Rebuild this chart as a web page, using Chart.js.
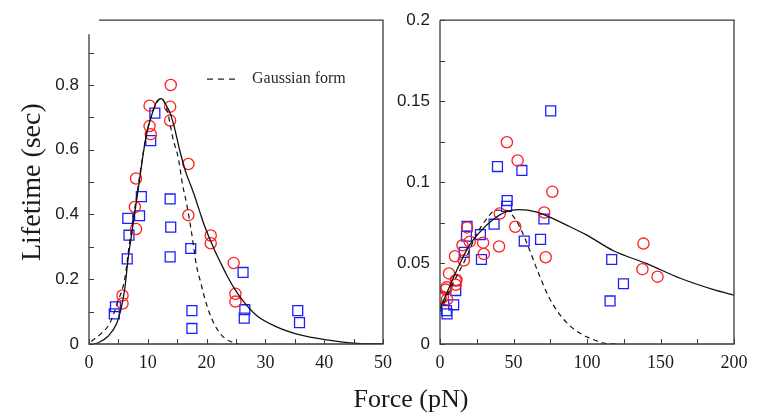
<!DOCTYPE html>
<html>
<head>
<meta charset="utf-8">
<script src="https://cdn.jsdelivr.net/npm/chart.js@4.4.1/dist/chart.umd.min.js"></script>
<style>
  body { margin: 0; background: #fff; }
  #wrap { position: relative; width: 766px; height: 417px; overflow: hidden; }
  #leftChart { position: absolute; left: 0; top: 0; }
  #rightChart { position: absolute; left: 386px; top: 0; }
  #xTitle {
    position: absolute; left: 300px; width: 222px; top: 384px;
    text-align: center; font-family: 'Liberation Serif', serif;
    font-size: 26px; line-height: 30px; color: #1a1a1a;
  }
</style>
</head>
<body>
<div id="wrap">
  <canvas id="leftChart" width="400" height="417"></canvas>
  <canvas id="rightChart" width="380" height="417"></canvas>
  <div id="xTitle">Force (pN)</div>
</div>
<script>
// left panel data (force pN, lifetime sec)
const leftCircleX = [13.9, 10.3, 13.8, 13.8, 10.3, 10.5, 16.9, 8.0, 7.8, 8.0, 16.9, 20.7, 20.7, 24.6, 24.9, 24.9, 5.7, 5.7];
const leftCircleY = [0.80, 0.736, 0.733, 0.69, 0.673, 0.648, 0.556, 0.511, 0.423, 0.355, 0.398, 0.335, 0.311, 0.25, 0.155, 0.131, 0.15, 0.125];
const leftSquareX = [11.2, 10.5, 8.9, 13.8, 6.6, 8.6, 6.8, 13.9, 6.5, 13.8, 17.3, 26.2, 4.5, 4.3, 17.5, 17.5, 26.5, 26.4, 35.5, 35.8];
const leftSquareY = [0.713, 0.628, 0.455, 0.448, 0.388, 0.396, 0.336, 0.361, 0.263, 0.269, 0.295, 0.221, 0.115, 0.093, 0.103, 0.048, 0.106, 0.080, 0.103, 0.066];
const leftFitX = [0.8, 1.5, 3.2, 4.7, 5.5, 6.1, 6.65, 7.2, 7.9, 8.3, 8.7, 9.2, 9.8, 10.6, 11.5, 12.3, 13.1, 13.8, 14.6, 15.5, 16.6, 17.3, 18.0, 18.9, 19.7, 20.6, 21.4, 22.3, 23.4, 24.5, 26.2, 28.5, 31.9, 35.9, 40.4, 45, 50];
const leftFitY = [0, 0.003, 0.023, 0.063, 0.113, 0.173, 0.263, 0.333, 0.42, 0.47, 0.52, 0.585, 0.65, 0.703, 0.748, 0.758, 0.738, 0.713, 0.663, 0.593, 0.523, 0.49, 0.455, 0.405, 0.362, 0.322, 0.288, 0.254, 0.214, 0.178, 0.133, 0.088, 0.053, 0.028, 0.013, 0.003, 0];
const leftGaussX = [0.4, 2.1, 3.5, 4.95, 6.1, 6.9, 7.8, 8.9, 9.8, 10.7, 11.5, 12.2, 12.8, 13.5, 14.3, 15.2, 15.9, 16.6, 17.45, 18.3, 19.0, 19.7, 20.5, 21.4, 22.3, 23.3, 24.5, 25.5];
const leftGaussY = [0.008, 0.033, 0.063, 0.133, 0.203, 0.313, 0.42, 0.553, 0.65, 0.71, 0.745, 0.758, 0.748, 0.705, 0.633, 0.573, 0.493, 0.433, 0.343, 0.24, 0.19, 0.14, 0.095, 0.058, 0.033, 0.015, 0.005, 0];

// right panel data
const rightCircleX = [45.5, 52.8, 76.4, 70.9, 51.2, 40.7, 40.2, 29.3, 29.8, 71.9, 18.4, 20.2, 15.3, 16.2, 10.2, 6.1, 10.7, 10.7, 4.4, 2.0, 4.8, 3.9, 11.2, 0.5, 138.4, 137.7, 148];
const rightCircleY = [0.1246, 0.1134, 0.094, 0.0812, 0.0724, 0.0806, 0.0602, 0.0626, 0.0556, 0.0536, 0.072, 0.0632, 0.061, 0.0516, 0.0542, 0.0436, 0.0392, 0.0366, 0.035, 0.029, 0.0276, 0.0336, 0.0396, 0.0286, 0.062, 0.0462, 0.0416];
const rightSquareX = [75.3, 39.1, 55.7, 45.7, 45.3, 36.8, 57.3, 68.4, 70.7, 27.5, 28.2, 18.0, 18.4, 16.5, 10.7, 9.3, 4.4, 4.8, 116.8, 124.8, 115.7];
const rightSquareY = [0.144, 0.1096, 0.1072, 0.0886, 0.085, 0.074, 0.0636, 0.0646, 0.0772, 0.0676, 0.0522, 0.0666, 0.0726, 0.0566, 0.033, 0.0242, 0.0206, 0.0186, 0.0522, 0.0372, 0.0266];
const rightFitX = [0, 6.1, 13, 19.8, 26.6, 35.7, 44.8, 53.9, 65.3, 76.6, 88, 99.3, 118, 140.7, 163.4, 186.1, 200];
const rightFitY = [0.022, 0.0346, 0.0486, 0.0606, 0.0686, 0.0766, 0.0816, 0.083, 0.0816, 0.0776, 0.0726, 0.0676, 0.0576, 0.0496, 0.0406, 0.0336, 0.0302];
const rightGaussX = [0, 8.4, 17.5, 24.3, 31.2, 38, 44.8, 51.6, 56.2, 60.7, 67.5, 74.3, 81.1, 88, 97.1, 102, 111, 120];
const rightGaussY = [0.02, 0.0366, 0.0526, 0.0666, 0.0766, 0.0826, 0.0826, 0.0766, 0.0686, 0.0586, 0.0426, 0.0286, 0.0186, 0.0116, 0.0056, 0.0036, 0.0006, 0];

function toPoints(xs, ys) {
    return xs.map((x, i) => ({ x: x, y: ys[i] }));
}

// box frame + inward tick marks
// gapTop: left axis line stops short of the top; gapLeft: top line starts right of the axis
const frameTicks = {
    id: 'frameTicks',
    afterDatasetsDraw(chart, args, opts) {
        const { ctx, chartArea: a, scales } = chart;
        const gapTop = opts.gapTop || 0, gapLeft = opts.gapLeft || 0;
        ctx.save();
        ctx.strokeStyle = '#3a3a3a';
        ctx.lineWidth = 1.3;
        ctx.beginPath();
        ctx.moveTo(a.left, a.top + gapTop);
        ctx.lineTo(a.left, a.bottom);
        ctx.lineTo(a.right, a.bottom);
        ctx.lineTo(a.right, a.top);
        ctx.lineTo(a.left + gapLeft, a.top);
        ctx.stroke();
        ctx.lineWidth = 1;
        ctx.beginPath();
        scales.x.ticks.forEach(t => {
            const px = Math.round(scales.x.getPixelForValue(t.value)) + 0.5;
            ctx.moveTo(px, a.bottom);
            ctx.lineTo(px, a.bottom - 5);
        });
        scales.y.ticks.forEach(t => {
            const py = Math.round(scales.y.getPixelForValue(t.value)) + 0.5;
            if (py < a.top + gapTop) return;
            ctx.moveTo(a.left, py);
            ctx.lineTo(a.left + 5, py);
        });
        ctx.stroke();
        ctx.restore();
    }
};

// "Gaussian form" key in the left panel
const gaussKey = {
    id: 'gaussKey',
    afterDraw(chart) {
        if (chart.canvas.id !== 'leftChart') return;
        const { ctx, chartArea: a } = chart;
        const x0 = a.left + 118, y0 = a.top + 59;
        ctx.save();
        ctx.strokeStyle = '#222';
        ctx.lineWidth = 1.2;
        ctx.setLineDash([6, 5]);
        ctx.beginPath();
        ctx.moveTo(x0, y0);
        ctx.lineTo(x0 + 32, y0);
        ctx.stroke();
        ctx.fillStyle = '#2a2a2a';
        ctx.font = '16px "Liberation Serif"';
        ctx.textBaseline = 'middle';
        ctx.fillText('Gaussian form', x0 + 45, y0);
        ctx.restore();
    }
};

function makeDatasets(cx, cy, sx, sy, fx, fy, gx, gy) {
    return [
        {
            label: 'fit', data: toPoints(fx, fy), showLine: true, pointRadius: 0,
            borderColor: '#111', borderWidth: 1.3, cubicInterpolationMode: 'monotone'
        },
        {
            label: 'Gaussian form', data: toPoints(gx, gy), showLine: true, pointRadius: 0,
            borderColor: '#111', borderWidth: 1.2, borderDash: [5, 4], cubicInterpolationMode: 'monotone'
        },
        {
            label: 'circles', data: toPoints(cx, cy), pointStyle: 'circle', pointRadius: 5.6,
            backgroundColor: 'rgba(0,0,0,0)', borderColor: 'rgb(255,30,30)', borderWidth: 1.3
        },
        {
            label: 'squares', data: toPoints(sx, sy), pointStyle: 'rect', pointRadius: 7,
            backgroundColor: 'rgba(0,0,0,0)', borderColor: 'rgb(30,30,255)', borderWidth: 1.3
        }
    ];
}

function makeChart(id, datasets, xs, ys, pad, yWidth, yTitle, frame) {
    return new Chart(document.getElementById(id), {
        type: 'scatter',
        data: { datasets: datasets },
        plugins: [frameTicks, gaussKey],
        options: {
            responsive: false,
            animation: false,
            devicePixelRatio: 1,
            layout: { padding: pad },
            plugins: { legend: { display: false }, tooltip: { enabled: false }, frameTicks: frame },
            scales: {
                x: {
                    type: 'linear', min: xs.min, max: xs.max,
                    grid: { display: false, drawTicks: false },
                    border: { display: false },
                    afterFit: s => { s.height = 73; },
                    ticks: {
                        stepSize: xs.step, autoSkip: false, maxRotation: 0, padding: 8,
                        color: '#1a1a1a', font: { family: 'Liberation Serif', size: 18 },
                        callback: xs.label
                    }
                },
                y: {
                    type: 'linear', min: ys.min, max: ys.max,
                    grid: { display: false, drawTicks: false },
                    border: { display: false },
                    afterFit: s => { s.width = yWidth; },
                    title: yTitle,
                    ticks: {
                        stepSize: ys.step, autoSkip: false, padding: 10,
                        color: '#1a1a1a', font: { family: 'Liberation Sans', size: 17 },
                        callback: ys.label
                    }
                }
            }
        }
    });
}

makeChart('leftChart',
    makeDatasets(leftCircleX, leftCircleY, leftSquareX, leftSquareY, leftFitX, leftFitY, leftGaussX, leftGaussY),
    { min: 0, max: 50, step: 5, label: v => (Math.round(v) % 10 === 0 ? String(Math.round(v)) : '') },
    { min: 0, max: 1, step: 0.1, label: v => {
        const t = Math.round(v * 10);
        return (t % 2 === 0 && t <= 8) ? String(t / 10) : '';
    } },
    { top: 11, right: 17, left: 0, bottom: 0 }, 89,
    { display: true, text: 'Lifetime (sec)', color: '#1a1a1a',
      font: { family: 'Liberation Serif', size: 28 }, padding: { top: 16, bottom: 0 } },
    { gapTop: 14, gapLeft: 10 });

// right canvas starts at 386, so plot left edge = 386 + 54 = 440
makeChart('rightChart',
    makeDatasets(rightCircleX, rightCircleY, rightSquareX, rightSquareY, rightFitX, rightFitY, rightGaussX, rightGaussY),
    { min: 0, max: 200, step: 25, label: v => (Math.round(v) % 50 === 0 ? String(Math.round(v)) : '') },
    { min: 0, max: 0.2, step: 0.025, label: v => {
        const t = Math.round(v * 1000);
        return t % 50 === 0 ? String(t / 1000) : '';
    } },
    { top: 11, right: 32, left: 0, bottom: 0 }, 54,
    { display: false },
    { gapTop: 0, gapLeft: 0 });
</script>
</body>
</html>
